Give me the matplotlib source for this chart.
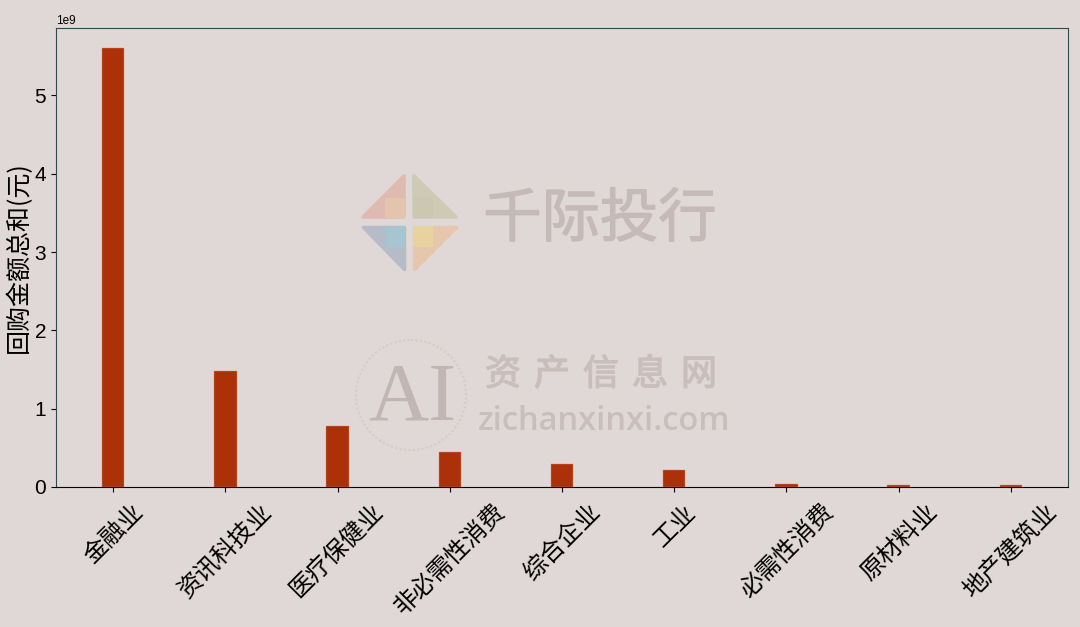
import matplotlib
matplotlib.use('Agg')
from matplotlib import pyplot as plt
from matplotlib import patheffects
from matplotlib.patches import Polygon, Circle, Rectangle
from matplotlib.transforms import Affine2D

plt.rcParams['font.family'] = ['Noto Sans CJK SC', 'DejaVu Sans']

W, H = 1080, 627
BG = '#e0d8d6'

sectors = ['金融业', '资讯科技业', '医疗保健业', '非必需性消费', '综合企业', '工业',
           '必需性消费', '原材料业', '地产建筑业']
amounts = [5.61e9, 1.48e9, 0.78e9, 0.45e9, 0.29e9, 0.22e9, 0.042e9, 0.03e9, 0.02e9]
y_ticks = [0, 1e9, 2e9, 3e9, 4e9, 5e9]

fig = plt.figure(figsize=(W / 100, H / 100), dpi=100, facecolor=BG)
ax = fig.add_axes([56 / W, 1 - 487 / H, (1068 - 56) / W, (487 - 28) / H], facecolor=BG)

ax.bar(sectors, amounts, width=0.2, color='#ad3108', edgecolor='#d98a68', linewidth=0.3)
ax.set_ylim(0, 5.86e9)
ax.set_yticks(y_ticks)
ax.set_ylabel('回购金额总和(元)', fontsize=18, labelpad=2)
ax.tick_params(axis='y', labelsize=15)
ax.tick_params(axis='x', labelsize=17.5, labelrotation=45, pad=5)
ax.yaxis.get_offset_text().set_fontsize(8.5)
ax.yaxis.get_offset_text().set_family('Liberation Sans')
for tick in ax.get_yticklabels():
    tick.set_family('Liberation Sans')
for s in ['top', 'left', 'right']:
    ax.spines[s].set_color('#2f4a4a')
ax.spines['bottom'].set_color('black')


# watermark, placed in pixel coordinates of the picture
def px(x, y):
    return x / W, 1 - y / H


def poly(points, color):
    fig.add_artist(Polygon([px(*p) for p in points], closed=True, facecolor=color,
                           edgecolor=color, linewidth=2.5, joinstyle='round',
                           transform=fig.transFigure))


def square(x0, y0, x1, y1, color):
    fig.add_artist(Rectangle(px(x0, y1), (x1 - x0) / W, (y1 - y0) / H, facecolor=color,
                             edgecolor='none', transform=fig.transFigure))


def mark_text(x, y, s, size, color, **kw):
    fx, fy = px(x, y)
    t = fig.text(fx, fy, s, fontsize=size, color=color, ha='center', va='center', **kw)
    t.set_path_effects([patheffects.withStroke(linewidth=0.9, foreground=color)])


poly([(363, 217), (404, 176), (404, 217)], '#e0b9b0')
poly([(414, 176), (456, 217), (414, 217)], '#cfcab6')
poly([(363, 227), (404, 227), (404, 269)], '#b5bcc8')
poly([(456, 227), (414, 227), (414, 269)], '#e6c7ad')
square(385, 198, 405, 218, '#e3c4ae')
square(413, 198, 433, 218, '#cbc8b2')
square(385, 226, 405, 247, '#a5c6d0')
square(413, 226, 433, 247, '#e8d3a0')

mark_text(600, 220, '千际投行', 42, '#c6bab8')

for i, ch in enumerate('资产信息网'):
    mark_text(503 + i * 49, 375, ch, 26, '#c9bebc')

fx, fy = px(604, 421)
fig.text(fx, fy, 'zichanxinxi.com', fontsize=23.5, color='#c9bebc', ha='center', va='center',
         family='Open Sans', fontweight='semibold')

fx, fy = px(412, 400)
fig.text(fx, fy, 'AI', fontsize=60, color='#c2b6b5', ha='center', va='center',
         family='Liberation Serif')

ring = Circle((411, 395), 55, facecolor='none', edgecolor='#d6cdca', linewidth=1.6,
              linestyle=(0, (1, 1)))
fig.add_artist(ring)
ring.set_transform(Affine2D().scale(1, -1).translate(0, H))

fig.savefig('out.png', dpi=100, facecolor=BG)
